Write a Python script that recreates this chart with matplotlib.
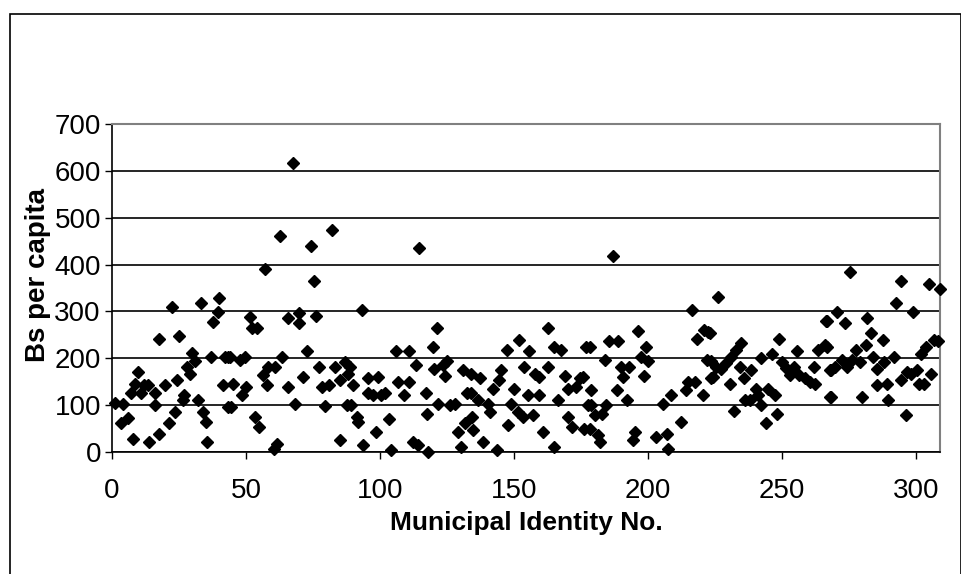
import numpy as np
import matplotlib.pyplot as plt
from matplotlib.patches import Rectangle

# municipal id (x) and Bs per capita (y)
muni_id = [
    1, 4, 3.2, 6, 7.8, 7, 9.7, 8.7, 11, 12, 13.4, 13.7, 16, 16, 17.5, 17.5, 19.6, 21.3, 22.4, 23.4,
    24.3, 24.9, 26.5, 27, 28, 29, 30, 31, 32, 33.3, 34, 35, 35.6, 37, 37.8, 39.6, 40, 41.4, 42, 43.3,
    43.3, 44, 45, 44.3, 47.6, 49.5, 48.5, 50, 51.4, 52.3, 54.2, 53.3, 54.7, 56.4, 57, 58.2, 58, 60.7,
    61.7, 60.5, 62.6, 63.4, 65.7, 65.7, 67.7, 68.2, 69.7, 69.7, 71.3, 72.9, 74.1, 75.3, 76.3, 77.1,
    78.4, 79.6, 81, 82.1, 83.1, 85, 85, 86.8, 87.8, 88, 88.7, 89.3, 90, 91.5, 91.8, 93.3, 93.7, 95.5,
    95.5, 97.4, 98.6, 99.3, 100.5, 102, 103.2, 104, 106, 106.7, 109, 110.7, 111, 112.3, 113.6, 114.2,
    114.6, 117, 117.5, 118, 119.8, 120.2, 121.4, 121.6, 123.5, 124.1, 125, 126, 127.9, 129, 130.3, 131,
    131.8, 132.6, 133.8, 133.8, 134.3, 134.7, 137.2, 136.5, 138.4, 140.3, 140.9, 142.1, 143.7, 145.2,
    144.6, 147.5, 147.7, 149, 150.2, 151.8, 151.5, 153.3, 153.9, 155.2, 155.8, 157, 157.7, 159.2,
    159.5, 160.8, 162.7, 162.7, 164.9, 165.1, 166.4, 167.4, 168.9, 170.1, 170.1, 171.6, 173.2, 174.5,
    175.7, 176.1, 177, 177.6, 178.2, 178.8, 178.6, 178.2, 180.1, 181.3, 182.3, 182.8, 183.8, 184.4,
    185.3, 186.9, 188.8, 188.5, 190, 190.7, 192.3, 192.8, 194.4, 195, 196.3, 197.5, 198.7, 199.4,
    200.2, 203.1, 205.6, 207.2, 207.5, 208.7, 212.4, 214.3, 214.9, 216.4, 217.6, 218.4, 220.5, 220.9,
    222.4, 222.1, 223.4, 223, 223.4, 224.3, 226.1, 225.5, 227.4, 229.2, 230.5, 231.1, 233, 234.8,
    234.2, 232.1, 235.8, 236.1, 238, 238.6, 240.4, 241, 242.3, 242.3, 244.2, 244.8, 246.3, 247.3,
    248.3, 249.1, 250, 251.6, 252.9, 254.5, 255.7, 256.2, 258.5, 260.3, 262, 262.2, 263.4, 265.9,
    266.6, 267.8, 267.8, 266.7, 266.9, 268.2, 268.4, 270.4, 270, 272.5, 273.4, 274.4, 275.4, 276.3,
    277.5, 279.1, 280, 281.3, 281.9, 283.1, 284.1, 285.6, 285.6, 287.8, 288.1, 289.3, 289.6, 291.8,
    292.4, 294.6, 294.6, 296.2, 296.5, 298, 299, 300.3, 301.1, 301.8, 303, 303.6, 304.9, 305.5,
    306.7, 308.2, 309,
]
bs_per_capita = [
    105, 103, 61, 73, 28, 125, 171, 146, 125, 143, 143, 21, 126, 100, 39, 242, 143, 61, 310, 86,
    153, 247, 110, 121, 182, 167, 212, 195, 110, 319, 86, 64, 21, 202, 278, 299, 329, 143, 202, 202,
    95, 202, 146, 96, 197, 203, 121, 139, 289, 264, 264, 75, 53, 164, 390, 182, 143, 182,
    18, 7, 462, 202, 139, 287, 617, 103, 296, 276, 159, 215, 440, 364, 291, 182,
    139, 98, 143, 474, 182, 153, 26, 192, 100, 167, 182, 100, 143, 75, 64, 303, 14, 157,
    125, 121, 43, 160, 121, 125, 71, 4, 216, 150, 121, 216, 150, 21, 185, 14,
    435, 125, 82, 0, 225, 178, 264, 103, 185, 162, 195, 100, 103, 43, 11, 176,
    61, 125, 125, 167, 75, 46, 157, 110, 21, 103, 86, 135, 4, 175,
    153, 217, 57, 103, 135, 239, 86, 75, 182, 121, 216, 78, 167, 121,
    160, 43, 264, 182, 11, 225, 110, 217, 162, 135, 75, 53, 139, 157,
    160, 50, 225, 100, 225, 133, 100, 50, 78, 36, 21, 82, 197, 100,
    237, 418, 237, 133, 182, 159, 110, 182, 25, 43, 259, 203, 162, 225,
    195, 32, 103, 39, 7, 121, 64, 133, 150, 303, 150, 241, 121, 260,
    257, 196, 157, 253, 195, 160, 330, 182, 178, 190, 146, 203, 217, 233,
    182, 87, 157, 110, 110, 176, 135, 121, 200, 100, 61, 135, 210, 121,
    82, 241, 192, 180, 164, 182, 215, 164, 157, 150, 182, 146, 217, 228,
    279, 176, 118, 225, 280, 175, 118, 299, 182, 197, 276, 182, 385, 197,
    217, 192, 118, 228, 287, 253, 203, 178, 143, 239, 192, 146, 110, 202,
    319, 364, 153, 78, 171, 167, 299, 176, 146, 210, 146, 225, 358, 167,
    239, 237, 347,
]

x_ticks = [0, 50, 100, 150, 200, 250, 300]
y_ticks = [0, 100, 200, 300, 400, 500, 600, 700]

plt.rcParams['font.family'] = ['Liberation Sans', 'DejaVu Sans']

fig = plt.figure(figsize=(9.62, 5.74), dpi=100)
ax = fig.add_axes([112 / 962, 1 - 452 / 574, 828 / 962, 328 / 574])

ax.plot(muni_id, bs_per_capita, linestyle='none', marker='D', markersize=6,
        color='black', clip_on=False, zorder=3)

ax.set_xlim(0, 309)
ax.set_ylim(0, 700)
ax.set_xticks(x_ticks)
ax.set_yticks(y_ticks)
ax.tick_params(labelsize=20, length=5, width=1, color='black', direction='out')
ax.tick_params(axis='x', pad=14)
ax.tick_params(axis='y', pad=3)
ax.yaxis.grid(True, color='black', linewidth=1.2)
ax.set_axisbelow(True)

for side in ['top', 'right']:
    ax.spines[side].set_color('#808080')
    ax.spines[side].set_linewidth(1.5)
for side in ['left', 'bottom']:
    ax.spines[side].set_color('black')
    ax.spines[side].set_linewidth(1.2)

fig.text(526 / 962, 1 - 523 / 574, 'Municipal Identity No.', fontsize=19,
         fontweight='bold', ha='center', va='center')
fig.text(38 / 962, 1 - 275 / 574, 'Bs per capita', rotation=90, fontsize=20,
         fontweight='bold', ha='center', va='center')

# outer chart border
fig.patches.append(Rectangle((10 / 962, -0.05), 951 / 962, 1.05 - 14 / 574,
                             transform=fig.transFigure, fill=False,
                             edgecolor='black', linewidth=1.2))

fig.savefig('out.png', dpi=100)
